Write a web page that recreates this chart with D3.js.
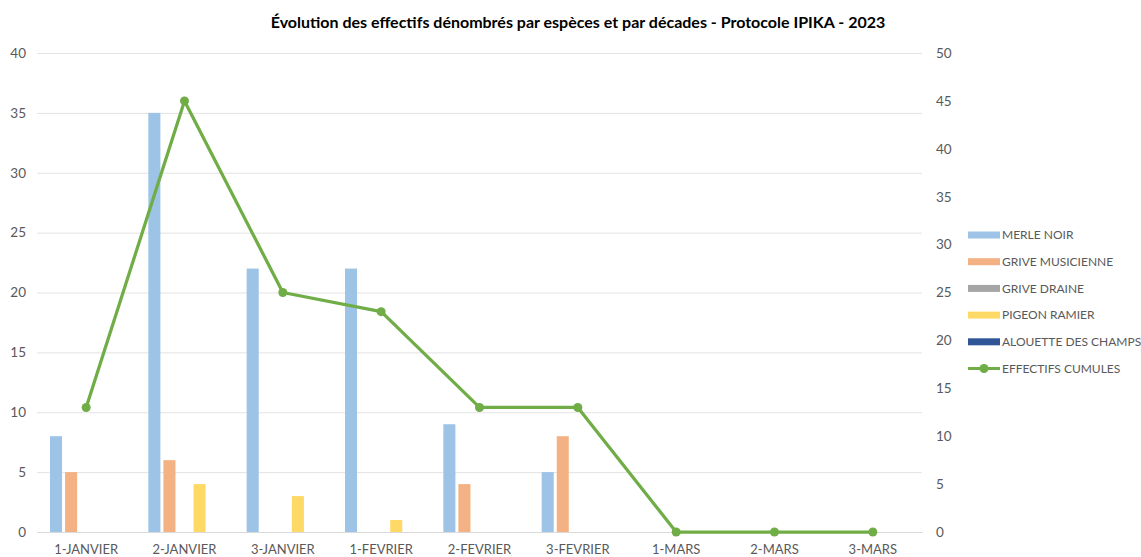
<!DOCTYPE html>
<html>
<head>
<meta charset="utf-8">
<script src="https://cdn.jsdelivr.net/npm/d3@7"></script>
<style>
  html, body { margin: 0; padding: 0; background: #fff; }
  svg { display: block; }
</style>
</head>
<body>
<div id="chart"></div>
<script>
const categories = ["1-JANVIER","2-JANVIER","3-JANVIER","1-FEVRIER","2-FEVRIER","3-FEVRIER","1-MARS","2-MARS","3-MARS"];
const seriesNames = ["MERLE NOIR","GRIVE MUSICIENNE","GRIVE DRAINE","PIGEON RAMIER","ALOUETTE DES CHAMPS"];
const merleNoir = [8, 35, 22, 22, 9, 5, 0, 0, 0];
const griveMusicienne = [5, 6, 0, 0, 4, 8, 0, 0, 0];
const griveDraine = [0, 0, 0, 0, 0, 0, 0, 0, 0];
const pigeonRamier = [0, 4, 3, 1, 0, 0, 0, 0, 0];
const alouetteDesChamps = [0, 0, 0, 0, 0, 0, 0, 0, 0];
const lineName = "EFFECTIFS CUMULES";
const effectifsCumules = [13, 45, 25, 23, 13, 13, 0, 0, 0];
const leftTicks = [0, 5, 10, 15, 20, 25, 30, 35, 40];
const rightTicks = [0, 5, 10, 15, 20, 25, 30, 35, 40, 45, 50];
const chartTitle = "Évolution des effectifs dénombrés par espèces et par décades - Protocole IPIKA - 2023";

(function () {
const seriesValues = [merleNoir, griveMusicienne, griveDraine, pigeonRamier, alouetteDesChamps];
const colors = ["#9DC3E6", "#F4B183", "#A5A5A5", "#FFD966", "#2F5597"];
const lineColor = "#70AD47";

const W = 1141, H = 557;
const pL = 37, pR = 922, pT = 53, pB = 532;
const font = "Lato, 'Open Sans', sans-serif";

const svg = d3.select("#chart").append("svg").attr("width", W).attr("height", H);

const x0 = d3.scaleBand().domain(categories).range([pL, pR]).padding(0);
const bw = x0.bandwidth();
const x1 = d3.scaleBand().domain(seriesNames).range([13, bw - 13]).paddingInner(0.2).paddingOuter(0);
const yL = d3.scaleLinear().domain([0, 40]).range([pB, pT]);
const yR = d3.scaleLinear().domain([0, 50]).range([pB, pT]);

svg.append("g").selectAll("line").data(leftTicks.filter(d => d > 0)).join("line")
  .attr("x1", pL).attr("x2", pR)
  .attr("y1", d => yL(d) + 0.5).attr("y2", d => yL(d) + 0.5)
  .attr("stroke", "#E3E3E3").attr("stroke-width", 1);

svg.append("text").attr("x", 578).attr("y", 28).attr("text-anchor", "middle")
  .attr("font-family", font).attr("font-weight", "bold").attr("font-size", 16)
  .attr("fill", "#000").text(chartTitle);

const axL = d3.axisLeft(yL).tickValues(leftTicks).tickSize(0).tickPadding(0);
const gL = svg.append("g").attr("transform", `translate(${pL - 11},0)`).call(axL);
gL.select(".domain").remove();
gL.selectAll("text").attr("font-family", font).attr("font-size", 13.5).attr("fill", "#595959");

const axR = d3.axisRight(yR).tickValues(rightTicks).tickSize(0).tickPadding(0);
const gR = svg.append("g").attr("transform", `translate(${pR + 14},0)`).call(axR);
gR.select(".domain").remove();
gR.selectAll("text").attr("font-family", font).attr("font-size", 13.5).attr("fill", "#595959");

const rows = categories.map((c, i) => ({ c, vals: seriesNames.map((s, j) => ({ s, j, v: seriesValues[j][i] })) }));
const groups = svg.append("g").selectAll("g").data(rows).join("g")
  .attr("transform", d => `translate(${x0(d.c)},0)`);
groups.selectAll("rect").data(d => d.vals.filter(v => v.v > 0)).join("rect")
  .attr("x", d => x1(d.s)).attr("width", x1.bandwidth())
  .attr("y", d => yL(d.v)).attr("height", d => yL(0) - yL(d.v))
  .attr("fill", d => colors[d.j]);

const axX = d3.axisBottom(x0).tickSize(0).tickPadding(13);
const gX = svg.append("g").attr("transform", `translate(0,${pB})`).call(axX);
gX.select(".domain").attr("stroke", "#D9D9D9").attr("stroke-width", 1);
gX.selectAll("text").attr("font-family", font).attr("font-size", 13).attr("fill", "#595959");

const lineGen = d3.line().x((d, i) => x0(categories[i]) + bw / 2).y(d => yR(d));
svg.append("path").datum(effectifsCumules).attr("d", lineGen)
  .attr("fill", "none").attr("stroke", lineColor).attr("stroke-width", 3.25)
  .attr("stroke-linejoin", "round");
svg.append("g").selectAll("circle").data(effectifsCumules).join("circle")
  .attr("cx", (d, i) => x0(categories[i]) + bw / 2).attr("cy", d => yR(d))
  .attr("r", 4.5).attr("fill", lineColor);

const lg = svg.append("g");
const ly0 = 235, lstep = 26.7;
seriesNames.forEach((s, j) => {
  const y = ly0 + j * lstep;
  lg.append("rect").attr("x", 968).attr("y", y - 3.5).attr("width", 32).attr("height", 7).attr("fill", colors[j]);
  lg.append("text").attr("x", 1002).attr("y", y).attr("dy", "0.35em")
    .attr("font-family", font).attr("font-size", 12).attr("fill", "#595959").text(s);
});
{
  const y = ly0 + 5 * lstep;
  lg.append("line").attr("x1", 968).attr("x2", 1000).attr("y1", y).attr("y2", y)
    .attr("stroke", lineColor).attr("stroke-width", 3);
  lg.append("circle").attr("cx", 984).attr("cy", y).attr("r", 4.5).attr("fill", lineColor);
  lg.append("text").attr("x", 1002).attr("y", y).attr("dy", "0.35em")
    .attr("font-family", font).attr("font-size", 12).attr("fill", "#595959").text(lineName);
}
})();
</script>
</body>
</html>
